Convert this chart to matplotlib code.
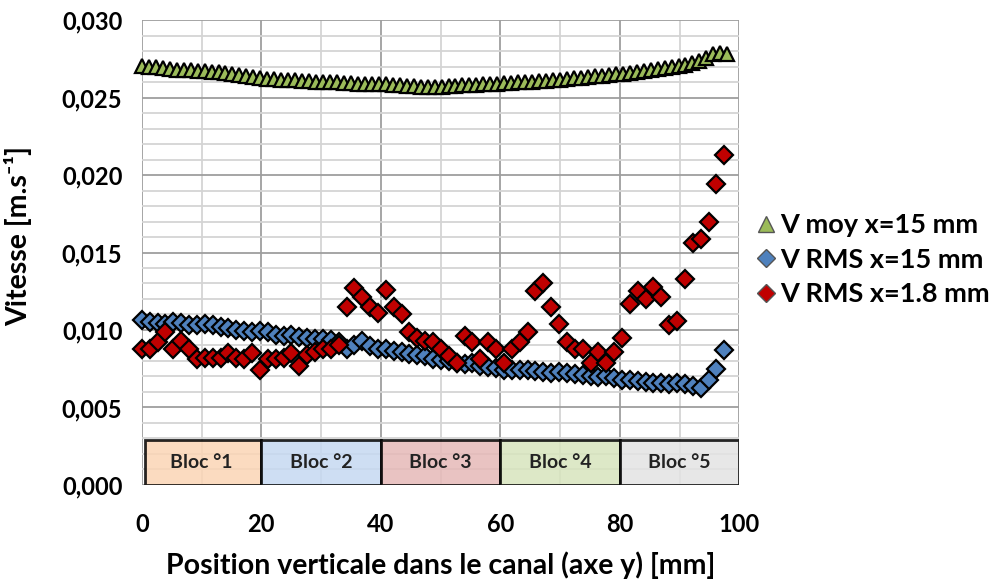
import numpy as np
import matplotlib
matplotlib.use("Agg")
import matplotlib.pyplot as plt
from matplotlib.patches import Rectangle
from matplotlib.ticker import FuncFormatter, MultipleLocator
from matplotlib.lines import Line2D

plt.rcParams['font.family'] = ['Lato', 'DejaVu Sans']
plt.rcParams['font.weight'] = 'bold'

# positions (mm) - grille PIV
y_moy = np.linspace(0, 98, 85)
y_rms = np.linspace(0, 97.5, 75)

v_moy_15 = [0.02705, 0.02700, 0.02698, 0.02690, 0.02685, 0.02680, 0.02678, 0.02675, 0.02672, 0.02668,
            0.02665, 0.02662, 0.02658, 0.02652, 0.02648, 0.02640, 0.02632, 0.02625, 0.02620, 0.02618,
            0.02615, 0.02612, 0.02610, 0.02608, 0.02605, 0.02603, 0.02600, 0.02600, 0.02598, 0.02595,
            0.02592, 0.02590, 0.02590, 0.02588, 0.02585, 0.02585, 0.02582, 0.02580, 0.02575, 0.02572,
            0.02570, 0.02568, 0.02568, 0.02570, 0.02572, 0.02575, 0.02578, 0.02580, 0.02582, 0.02585,
            0.02588, 0.02590, 0.02592, 0.02595, 0.02598, 0.02600, 0.02603, 0.02605, 0.02608, 0.02612,
            0.02615, 0.02620, 0.02625, 0.02628, 0.02632, 0.02636, 0.02640, 0.02645, 0.02650, 0.02655,
            0.02660, 0.02665, 0.02670, 0.02675, 0.02682, 0.02688, 0.02695, 0.02702, 0.02710, 0.02720,
            0.02735, 0.02755, 0.02780, 0.02785, 0.02778]

v_rms_15 = [0.01065, 0.01050, 0.01045, 0.01040, 0.01050, 0.01045, 0.01035, 0.01030, 0.01040, 0.01035,
            0.01020, 0.01010, 0.01000, 0.00995, 0.00990, 0.00995, 0.00985, 0.00970, 0.00960, 0.00965,
            0.00955, 0.00950, 0.00945, 0.00940, 0.00935, 0.00925, 0.00875, 0.00900, 0.00930, 0.00895,
            0.00880, 0.00875, 0.00865, 0.00855, 0.00845, 0.00840, 0.00830, 0.00815, 0.00805, 0.00800,
            0.00790, 0.00780, 0.00785, 0.00770, 0.00760, 0.00755, 0.00745, 0.00740, 0.00745, 0.00740,
            0.00735, 0.00730, 0.00725, 0.00730, 0.00720, 0.00715, 0.00710, 0.00700, 0.00695, 0.00700,
            0.00690, 0.00680, 0.00675, 0.00670, 0.00665, 0.00660, 0.00655, 0.00650, 0.00660, 0.00650,
            0.00640, 0.00625, 0.00675, 0.00750, 0.00870]

v_rms_18 = [0.0088, 0.0088, 0.0092, 0.0099, 0.0088, 0.0093, 0.0088, 0.0081, 0.0082, 0.0082,
            0.0082, 0.0085, 0.0082, 0.0081, 0.0085, 0.0074, 0.0081, 0.0081, 0.0082, 0.0085,
            0.0077, 0.0084, 0.0086, 0.0088, 0.0088, 0.0090, 0.0115, 0.0127, 0.0121, 0.0115,
            0.0111, 0.0126, 0.0115, 0.0110, 0.0099, 0.0095, 0.0093, 0.0092, 0.0088, 0.0083,
            0.0079, 0.0096, 0.0092, 0.0081, 0.0092, 0.0088, 0.0079, 0.0088, 0.0092, 0.0099,
            0.0125, 0.0130, 0.0115, 0.0104, 0.0092, 0.0088, 0.0088, 0.0079, 0.0086, 0.0079,
            0.0086, 0.0095, 0.0117, 0.0125, 0.0120, 0.0128, 0.0121, 0.0103, 0.0106, 0.0133,
            0.0156, 0.0159, 0.0170, 0.0194, 0.0213]

bloc_labels = ["Bloc °1", "Bloc °2", "Bloc °3", "Bloc °4", "Bloc °5"]
bloc_starts = [0, 20, 40, 60, 80]
bloc_colors = ["#FBD5B5", "#C6D9F1", "#E6B9B8", "#D7E4BD", "#E3E3E3"]

fig = plt.figure(figsize=(9.99, 5.79), dpi=100)
ax = fig.add_axes([0.142, 0.1624, 0.598, 0.803])

ax.set_xlim(0, 100)
ax.set_ylim(0, 0.030)
ax.xaxis.set_major_locator(MultipleLocator(20))
ax.xaxis.set_minor_locator(MultipleLocator(10))
ax.yaxis.set_major_locator(MultipleLocator(0.005))
ax.yaxis.set_minor_locator(MultipleLocator(0.001))
ax.grid(which='major', color='#9E9E9E', lw=1.3, zorder=0)
ax.grid(which='minor', color='#D4D4D4', lw=1.3, zorder=0)
ax.set_axisbelow(True)
for s in ax.spines.values():
    s.set_visible(False)
ax.tick_params(which='both', length=0, labelsize=17)
ax.tick_params(axis='y', pad=14)
ax.tick_params(axis='x', pad=20)
ax.yaxis.set_major_formatter(FuncFormatter(lambda v, p: f"{v:.3f}".replace('.', ',')))
for lab in ax.get_xticklabels() + ax.get_yticklabels():
    lab.set_fontweight('bold')

# blocs
for x0, lab, c in zip(bloc_starts, bloc_labels, bloc_colors):
    ax.add_patch(Rectangle((x0 + (0.6 if x0 == 0 else 0), 0), 20 - (0.6 if x0 == 0 else 0), 0.0029,
                           facecolor=c, edgecolor='black', lw=2, alpha=0.85, zorder=2))
    ax.text(x0 + 10, 0.00145, lab, ha='center', va='center', fontsize=14, fontweight='bold',
            color='#222222', zorder=3)

ax.plot(y_moy, v_moy_15, ls='none', marker='^', ms=10.5, mfc='#9BBB59', mec='black', mew=1.6,
        clip_on=False, zorder=4)
ax.plot(y_rms, v_rms_15, ls='none', marker='D', ms=9, mfc='#4F81BD', mec='black', mew=1.6,
        clip_on=False, zorder=4)
ax.plot(y_rms, v_rms_18, ls='none', marker='D', ms=9.5, mfc='#C00000', mec='black', mew=1.6,
        clip_on=False, zorder=5)

ax.set_xlabel("Position verticale dans le canal (axe y) [mm]", fontsize=20.5, fontweight='bold')
ax.set_ylabel("Vitesse [m.s⁻¹]", fontsize=20.5, fontweight='bold')
ax.xaxis.set_label_coords(0.5, -0.173)
ax.xaxis.label.set_va('center')
ax.yaxis.set_label_coords(-0.207, 0.535)
ax.yaxis.label.set_va('center')

handles = [Line2D([], [], ls='none', marker='^', ms=12, mfc='#9BBB59', mec='#555555', mew=1),
           Line2D([], [], ls='none', marker='D', ms=9, mfc='#4F81BD', mec='#555555', mew=1),
           Line2D([], [], ls='none', marker='D', ms=9, mfc='#C00000', mec='#555555', mew=1)]
labels = ["V moy x=15 mm", "V RMS x=15 mm", "V RMS x=1.8 mm"]
leg = fig.legend(handles, labels, loc='upper left', bbox_to_anchor=(0.742, 0.65), frameon=False,
                 handletextpad=0.05, handlelength=1.0, labelspacing=0.38, borderaxespad=0,
                 prop={'size': 19.5, 'weight': 'bold'})

fig.savefig("out.png", dpi=100)
